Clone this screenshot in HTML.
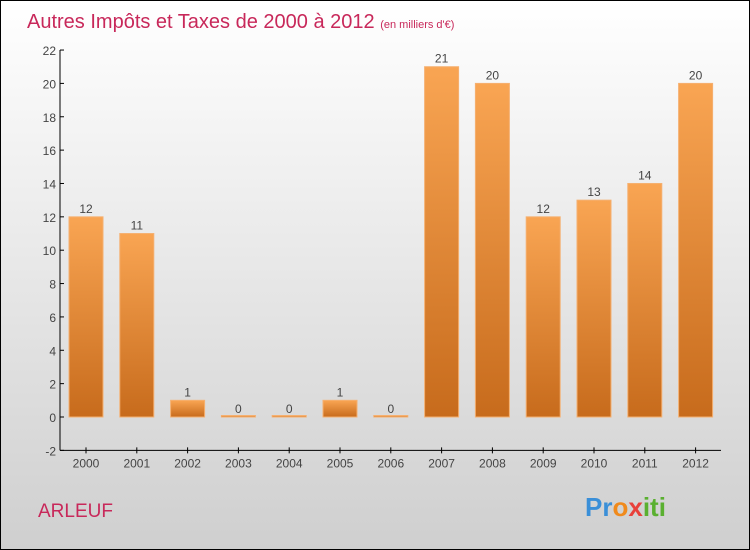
<!DOCTYPE html>
<html><head><meta charset="utf-8"><style>
body{margin:0}
#c{width:748px;height:548px;border:1px solid #000;position:relative;background:linear-gradient(#ffffff,#cfcfcf);font-family:"Liberation Sans",sans-serif;overflow:hidden}
</style></head><body>
<div id="c">
<svg width="748" height="548" id="s">
<defs>
<linearGradient id="bg" x1="0" y1="0" x2="0" y2="1"><stop offset="0" stop-color="#f9a553"/><stop offset="1" stop-color="#c76b1c"/></linearGradient>
</defs>
<text x="26" y="27" font-size="20" fill="#c8285a">Autres Impôts et Taxes de 2000 à 2012 <tspan font-size="11">(en milliers d'€)</tspan></text>
<text x="37" y="516" font-size="19" fill="#c8285a">ARLEUF</text>
<text x="584" y="515" font-size="26" font-weight="bold"><tspan fill="#3a8fd8">Pr</tspan><tspan fill="#f08a1c">o</tspan><tspan fill="#e8403a">x</tspan><tspan fill="#5ab030">iti</tspan></text>
<g id="g"></g>
</svg>
</div>
<script>
const categories=["2000","2001","2002","2003","2004","2005","2006","2007","2008","2009","2010","2011","2012"];
const values=[12,11,1,0,0,1,0,21,20,12,13,14,20];
const yTicks=[-2,0,2,4,6,8,10,12,14,16,18,20,22];
const ns="http://www.w3.org/2000/svg";
const g=document.getElementById('g');
const y=v=>416-(v)*16.68;
const x=i=>85+i*50.8;
function el(t,a,p){const e=document.createElementNS(ns,t);for(const k in a)e.setAttribute(k,a[k]);(p||g).appendChild(e);return e;}
let ax=el('line',{x1:59,y1:y(22),x2:59,y2:y(-2),stroke:'#000'});


let bx=el('line',{x1:59,y1:y(-2),x2:720,y2:y(-2),stroke:'#000'});


yTicks.forEach(t=>{
 el('line',{x1:59,x2:63,y1:y(t),y2:y(t),stroke:'#000'});
 const tx=el('text',{x:55,y:y(t)+5,'text-anchor':'end','font-size':12,fill:'#444'});
 tx.textContent=t;
 
 
});
categories.forEach((c,i)=>{
 const cx=x(i);
 el('line',{x1:cx,x2:cx,y1:y(-2)-3,y2:y(-2)+3,stroke:'#000'});
 const tl=el('text',{x:cx,y:y(-2)+17,'text-anchor':'middle','font-size':12,fill:'#444'});
 tl.textContent=c;
 
 
 const v=values[i];
 const top=y(v),h=Math.max(y(0)-top,1.5);
 const r=el('rect',{x:cx-17,y:Math.min(top,y(0)-1.5),width:34,height:h,fill:'url(#bg)',stroke:'#f5b070','stroke-width':1});
 
 
 const lb=el('text',{x:cx,y:Math.min(top,y(0))-4,'text-anchor':'middle','font-size':12,fill:'#444'});
 lb.textContent=v;
 
 
});
</script>
</body></html>
